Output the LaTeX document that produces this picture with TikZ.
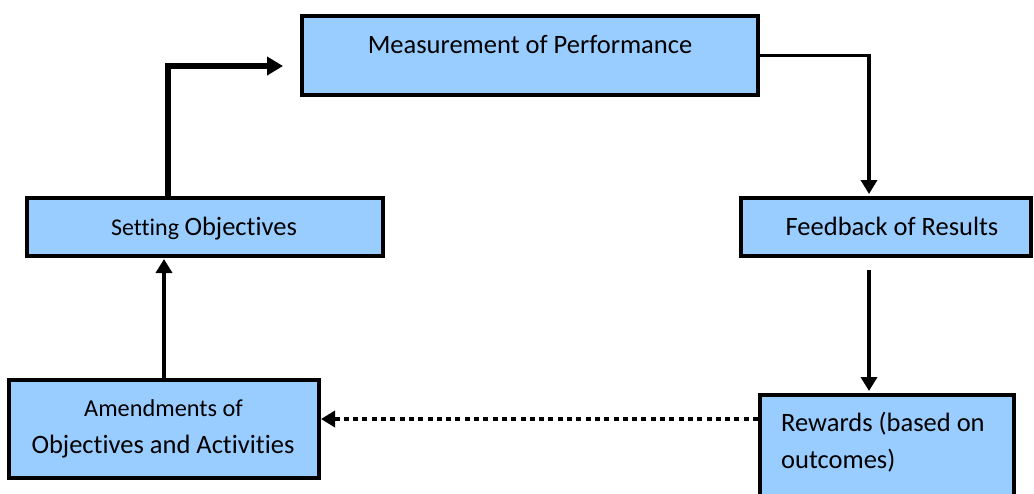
\documentclass[tikz,border=0pt]{standalone}
\usepackage{fontspec}
\setmainfont{Carlito}[Ligatures={NoCommon}]
\usetikzlibrary{arrows.meta,calc}
\definecolor{boxblue}{RGB}{153,204,255}
\tikzset{
  box/.style={draw=black, line width=4pt, fill=boxblue, inner sep=0pt},
  lbl/.style={inner sep=0pt, font=\fontsize{26.5}{37}\selectfont},
  thinarrow/.style={line width=3.5pt, -{Triangle[length=14pt,width=16pt]}},
  thickarrow/.style={line width=6pt, -{Triangle[length=16pt,width=18pt]}},
  dotarrow/.style={line width=4pt, dash pattern=on 5pt off 4.3pt, -{Triangle[length=14pt,width=16pt]}}
}
\begin{document}
\begin{tikzpicture}[x=1pt,y=-1pt]
\clip (0,0) rectangle (1034,493);
\fill[white] (0,0) rectangle (1034,493);
% boxes
\node[box, minimum width=456pt, minimum height=79pt] (meas) at (530,55.5) {};
\node[box, minimum width=356pt, minimum height=58pt] (set) at (205,227) {};
\node[box, minimum width=290pt, minimum height=58pt] (feed) at (886,227) {};
\node[box, minimum width=310pt, minimum height=98pt] (amend) at (164,429) {};
\node[box, minimum width=254pt, minimum height=133pt] (rew) at (887,461.5) {};
% labels
\node[lbl, anchor=base] (tmeas) at (530,53.3) {Measurement of Performance};
\node[lbl, anchor=base] (tset) at (204,235) {{\fontsize{24}{30}\selectfont Setting }Objectives};
\node[lbl, anchor=base] (tfeed) at (892,235) {Feedback of Results};
\node[lbl, anchor=base, font=\fontsize{24.3}{30}\selectfont] (tam1) at (163.5,416.7) {Amendments of};
\node[lbl, anchor=base] (tam2) at (163,453.3) {Objectives and Activities};
\node[lbl, anchor=base west] (trw1) at (781,431.7) {Rewards (based on};
\node[lbl, anchor=base west] (trw2) at (781,468) {outcomes)};
% connectors
\draw[thickarrow] ($(set.north)+(-37,4)$) |- ($(meas.west)+(-17,10.5)$);
\draw[thinarrow] (meas.east) -| ($(feed.north)+(-17,-2)$);
\draw[thinarrow] ($(feed.south)+(-17,12)$) -- ($(rew.north)+(-18,-2)$);
\draw[dotarrow] ($(rew.west)+(0,-42.5)$) -- ($(amend.east)+(0,-10)$);
\draw[thinarrow] (amend.north) -- ($(amend.north |- set.south)+(0,1)$);
\end{tikzpicture}
\end{document}
